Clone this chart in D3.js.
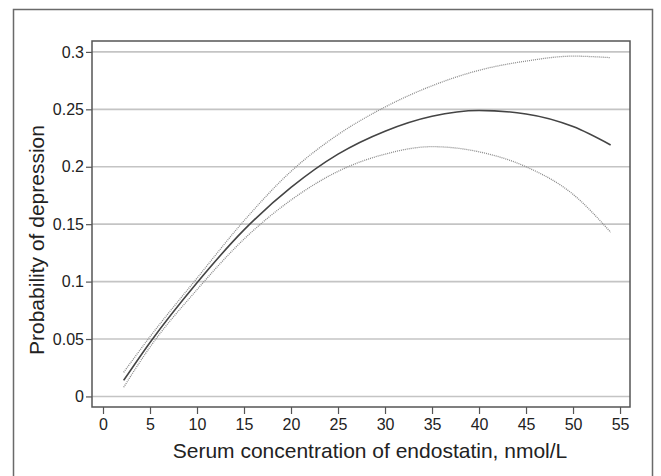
<!DOCTYPE html>
<html><head><meta charset="utf-8">
<script src="https://cdn.jsdelivr.net/npm/d3@7"></script>
<style>
body{margin:0;background:#fff;}
svg{display:block;font-family:"Liberation Sans",Arial,Helvetica,sans-serif;}
</style></head>
<body><svg id="c" width="661" height="476"></svg>
<script>
const xVals = [2.2, 5, 10, 15, 20, 25, 30, 35, 40, 45, 50, 54];
const estimate = [0.014, 0.047, 0.099, 0.145, 0.182, 0.211, 0.231, 0.244, 0.249, 0.246, 0.235, 0.219];
const upperCI = [0.021, 0.052, 0.103, 0.153, 0.196, 0.228, 0.252, 0.2705, 0.284, 0.292, 0.2963, 0.295];
const lowerCI = [0.008, 0.043, 0.093, 0.137, 0.171, 0.196, 0.211, 0.2175, 0.213, 0.200, 0.176, 0.143];
const xTicks = [0,5,10,15,20,25,30,35,40,45,50,55];
const yTicks = [0,0.05,0.1,0.15,0.2,0.25,0.3];
const yTickLabels = ["0","0.05","0.1","0.15","0.2","0.25","0.3"];

const svg = d3.select("#c");
const L=92, R=630, T=41, B=407;
const x = d3.scaleLinear().domain([-1.17,56.06]).range([L,R]);
const y = d3.scaleLinear().domain([-0.0092,0.3095]).range([B,T]);

// outer frame
svg.append("path").attr("d","M13.5,480 V9.5 H652.5 V480").attr("fill","none").attr("stroke","#6a6a6a").attr("stroke-width",1.5);

// gridlines
svg.append("g").selectAll("line").data(yTicks).join("line")
  .attr("x1",L).attr("x2",R).attr("y1",d=>y(d)).attr("y2",d=>y(d))
  .attr("stroke","#c4c4c4").attr("stroke-width",1.6);

// axes
const yAxis = d3.axisLeft(y).tickValues(yTicks).tickFormat((d,i)=>yTickLabels[i]).tickSize(6).tickPadding(2);
const gy = svg.append("g").attr("transform",`translate(${L},0)`).call(yAxis);
const xAxis = d3.axisBottom(x).tickValues(xTicks).tickFormat(d3.format("d")).tickSize(7).tickPadding(5);
const gx = svg.append("g").attr("transform",`translate(0,${B})`).call(xAxis);
[gx,gy].forEach(g=>{
  g.select(".domain").remove();
  g.selectAll(".tick line").attr("stroke","#555").attr("stroke-width",1.2);
  g.selectAll(".tick text").attr("font-size",16).attr("fill","#222").attr("font-family","Liberation Sans, Arial, sans-serif");
});

// plot frame
svg.append("rect").attr("x",L).attr("y",T).attr("width",R-L).attr("height",B-T)
  .attr("fill","none").attr("stroke","#555").attr("stroke-width",1.5);

const line = (vals)=>d3.line().x((d,i)=>x(xVals[i])).y(d=>y(d)).curve(d3.curveMonotoneX)(vals);

svg.append("path").attr("d",line(upperCI)).attr("fill","none").attr("stroke","#8a8a8a").attr("stroke-width",1.3).attr("stroke-dasharray","1,1");
svg.append("path").attr("d",line(lowerCI)).attr("fill","none").attr("stroke","#8a8a8a").attr("stroke-width",1.3).attr("stroke-dasharray","1,1");
svg.append("path").attr("d",line(estimate)).attr("fill","none").attr("stroke","#444").attr("stroke-width",1.6);

// titles
svg.append("text").attr("x",370).attr("y",458).attr("text-anchor","middle")
  .attr("font-size",21).attr("fill","#222").text("Serum concentration of endostatin, nmol/L");
svg.append("text").attr("transform","translate(44,240) rotate(-90)").attr("text-anchor","middle")
  .attr("font-size",21).attr("fill","#222").text("Probability of depression");
</script></body></html>
